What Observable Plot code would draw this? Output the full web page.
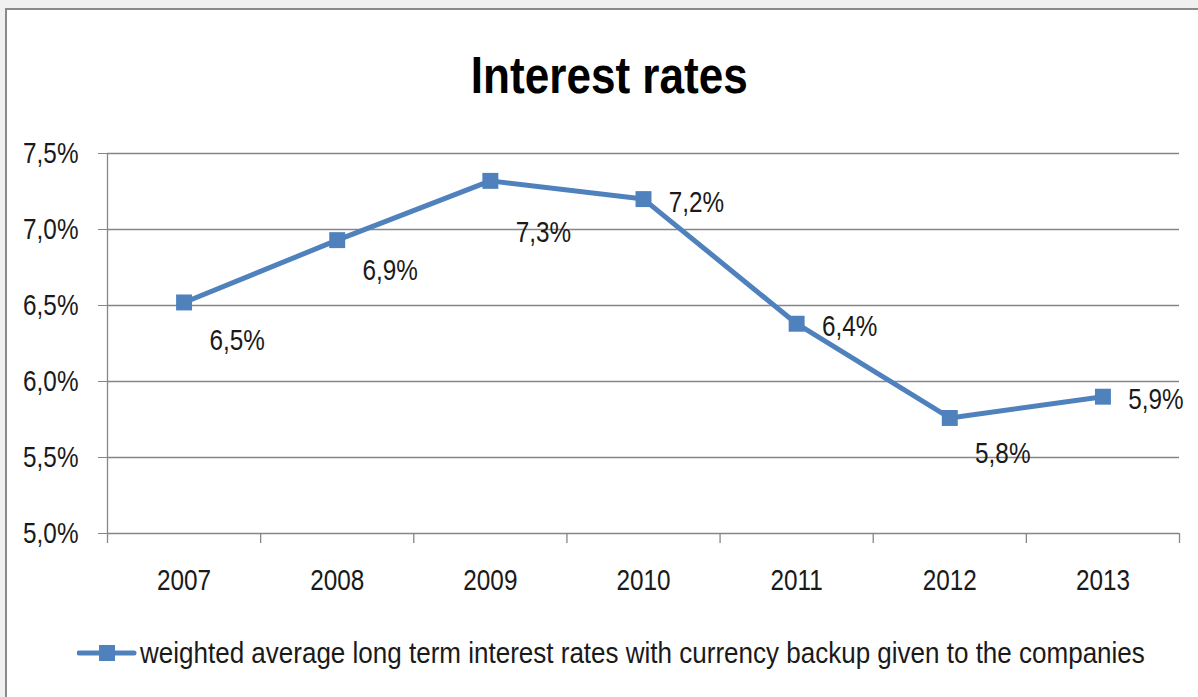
<!DOCTYPE html>
<html>
<head>
<meta charset="utf-8">
<script src="https://cdn.jsdelivr.net/npm/d3@7"></script>
<script src="https://cdn.jsdelivr.net/npm/@observablehq/plot@0.6"></script>
<style>
  html, body { margin: 0; padding: 0; background: #f0f0f0; overflow: hidden; width: 1198px; height: 697px; }
  body { font-family: "Liberation Sans Narrow", "Liberation Sans", sans-serif; position: relative; }
  #frame { position: absolute; left: 5px; top: 8px; width: 1300px; height: 800px; border: 2px solid #8a8a8a; background: #fff; box-sizing: border-box; }
  #title { position: absolute; left: 0; width: 1218px; top: 49px; text-align: center; font-size: 52px; line-height: 52px; font-weight: bold; color: #000; }
  #title span { display: inline-block; transform-origin: center; }
  #chart { position: absolute; left: 0; top: 120px; }
  #legend { position: absolute; left: 77px; top: 638px; font-size: 30px; line-height: 30px; color: #1a1a1a; white-space: nowrap; display: flex; align-items: center; }
  #legend svg { margin-right: 3px; flex: none; }
  #legend span { display: inline-block; transform-origin: left center; }
</style>
</head>
<body>
<div id="frame"></div>
<div id="title"><span>Interest rates</span></div>
<div id="chart"></div>
<div id="legend"></div>
<script>
const years = [2007, 2008, 2009, 2010, 2011, 2012, 2013];
const rates = [6.52, 6.93, 7.32, 7.20, 6.38, 5.76, 5.90];
const rateLabels = ["6,5%", "6,9%", "7,3%", "7,2%", "6,4%", "5,8%", "5,9%"];
const yTicks = [5.0, 5.5, 6.0, 6.5, 7.0, 7.5];
const yTickLabels = ["5,0%", "5,5%", "6,0%", "6,5%", "7,0%", "7,5%"];
const seriesName = "weighted average long term interest rates with currency backup given to the companies";

// label placement offsets (px), kept apart from the data
const labelDy = [38, 30, 52, 3, 3, 35, 3];

const blue = "#4F81BD";
const gray = "#868686";
const ink = "#1a1a1a";
const data = years.map((year, i) => ({year, rate: rates[i], label: rateLabels[i]}));
const boundaries = [years[0] - 0.5, ...years.map(y => y + 0.5)];

const fontFamily = '"Liberation Sans Narrow", "Liberation Sans", sans-serif';

const chart = Plot.plot({
  width: 1198,
  height: 480,
  marginLeft: 107,
  marginRight: 19,
  marginTop: 33,
  marginBottom: 67,
  style: {fontFamily, background: "transparent", color: ink},
  x: {type: "linear", domain: [boundaries[0], boundaries[boundaries.length - 1]]},
  y: {domain: [yTicks[0], yTicks[yTicks.length - 1]]},
  marks: [
    Plot.gridY(yTicks, {stroke: gray, strokeOpacity: 1, strokeWidth: 1.3}),
    Plot.axisY({ticks: yTicks, tickFormat: d => yTickLabels[yTicks.indexOf(d)], tickSize: 9, tickPadding: 20, fontSize: 30, stroke: gray, strokeOpacity: 1, fill: ink, label: null}),
    Plot.ruleX([boundaries[0]], {stroke: gray, strokeWidth: 1.3}),
    Plot.axisX({ticks: boundaries, tickSize: 10, tickFormat: () => "", stroke: gray, strokeOpacity: 1, strokeWidth: 1.3, label: null}),
    Plot.axisX({ticks: years, tickSize: 0, tickPadding: 35, tickFormat: d => String(d), fontSize: 30, fill: ink, label: null}),
    Plot.line(data, {x: "year", y: "rate", stroke: blue, strokeWidth: 5, strokeLinejoin: "round", strokeLinecap: "round"}),
    Plot.dot(data, {x: "year", y: "rate", symbol: "square", r: 9, fill: blue, stroke: null}),
    ...data.map((d, i) => Plot.text([d], {x: "year", y: "rate", text: "label", dx: 53, dy: labelDy[i], fontSize: 30, fill: ink}))
  ]
});
document.getElementById("chart").appendChild(chart);

// condense SVG text to mimic a narrow face
chart.querySelectorAll("text").forEach(t => {
  const w = t.getComputedTextLength();
  if (w > 0) {
    t.setAttribute("textLength", (w * 0.81).toFixed(1));
    t.setAttribute("lengthAdjust", "spacingAndGlyphs");
  }
});

// title condense
const titleSpan = document.querySelector("#title span");
titleSpan.style.transform = `scaleX(${(277 / titleSpan.getBoundingClientRect().width).toFixed(3)})`;

// legend
const legend = document.getElementById("legend");
legend.innerHTML = `<svg width="60" height="20" viewBox="0 0 60 20"><line x1="2" y1="10" x2="57" y2="10" stroke="${blue}" stroke-width="5" stroke-linecap="round"/><rect x="22" y="2" width="16" height="16" fill="${blue}"/></svg><span></span>`;
const legSpan = legend.querySelector("span");
legSpan.textContent = seriesName;
legSpan.style.transform = `scaleX(${(1005 / legSpan.getBoundingClientRect().width).toFixed(3)})`;
</script>
</body>
</html>
